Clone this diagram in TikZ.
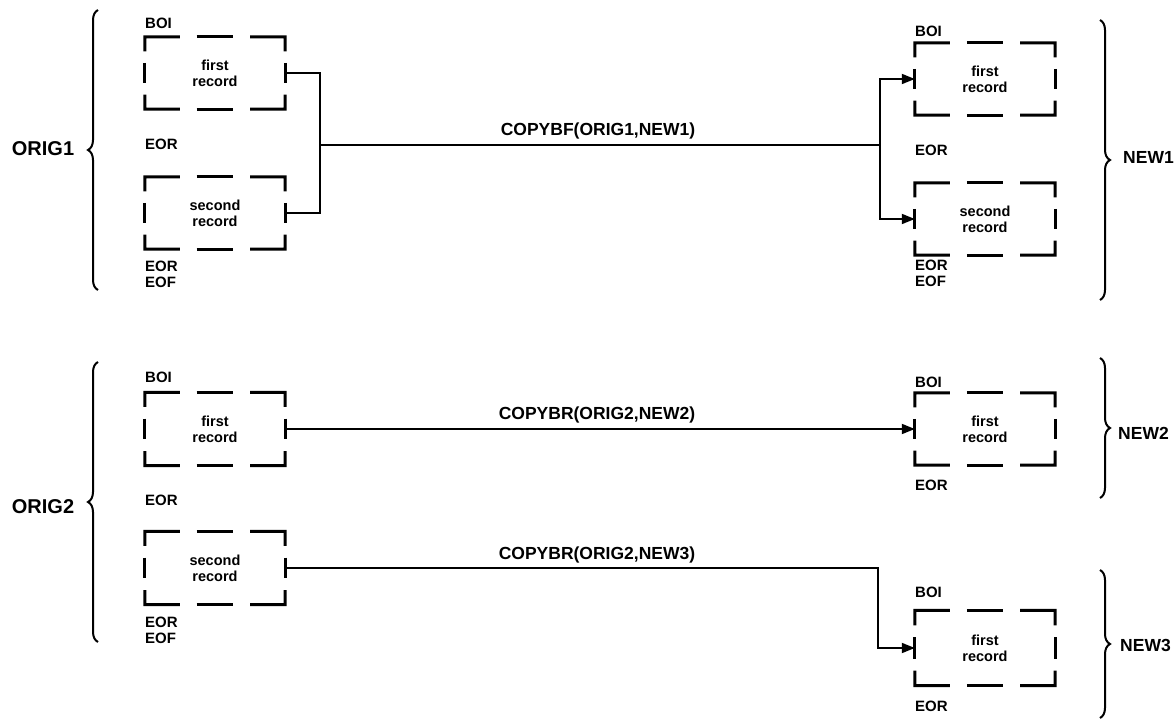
\documentclass[tikz,border=0pt]{standalone}
\usepackage{fontspec}
\setmainfont{Liberation Sans}
\usetikzlibrary{calc,decorations.pathreplacing,arrows.meta}
\newcommand\recbox[1]{%
 \draw[dashseg] ($(#1.north west)!0.2!(#1.south west)$) -- (#1.north west) -- ($(#1.north west)!0.25!(#1.north east)$);
 \draw[dashseg] ($(#1.north west)!0.37!(#1.north east)$) -- ($(#1.north west)!0.63!(#1.north east)$);
 \draw[dashseg] ($(#1.north east)!0.25!(#1.north west)$) -- (#1.north east) -- ($(#1.north east)!0.2!(#1.south east)$);
 \draw[dashseg] ($(#1.north west)!0.36!(#1.south west)$) -- ($(#1.north west)!0.64!(#1.south west)$);
 \draw[dashseg] ($(#1.north east)!0.36!(#1.south east)$) -- ($(#1.north east)!0.64!(#1.south east)$);
 \draw[dashseg] ($(#1.south west)!0.2!(#1.north west)$) -- (#1.south west) -- ($(#1.south west)!0.25!(#1.south east)$);
 \draw[dashseg] ($(#1.south west)!0.37!(#1.south east)$) -- ($(#1.south west)!0.63!(#1.south east)$);
 \draw[dashseg] ($(#1.south east)!0.25!(#1.south west)$) -- (#1.south east) -- ($(#1.south east)!0.2!(#1.north east)$);
}
\begin{document}
\begin{tikzpicture}[x=1pt,y=-1pt,
  dashseg/.style={line width=3pt,line cap=butt,line join=miter},
  rec/.style={minimum width=140pt,minimum height=72pt,inner sep=0pt,align=center,
    font=\bfseries\fontsize{14.5}{16}\selectfont},
  tag/.style={anchor=west,inner sep=0pt,font=\bfseries\fontsize{15}{17}\selectfont},
  big/.style={inner sep=0pt,font=\bfseries\fontsize{20}{22}\selectfont},
  cmd/.style={inner sep=0pt,font=\bfseries\fontsize{17.5}{19}\selectfont},
  conn/.style={line width=1.8pt},
  arr/.style={line width=1.8pt,-{Triangle[length=13pt,width=10pt]}},
  brc/.style={line width=2pt,decorate,decoration={brace,amplitude=10pt}}]
\useasboundingbox (0,0) rectangle (1176,719);

% ---------- top section ----------
\node[rec] (o1a) at (215,73) {first\\record};
\node[rec] (o1b) at (215,213) {second\\record};
\node[rec] (n1a) at (985,79) {first\\record};
\node[rec] (n1b) at (985,219) {second\\record};
\recbox{o1a}\recbox{o1b}\recbox{n1a}\recbox{n1b}

\node[tag] (o1boi) at (145,23) {BOI};
\node[tag] (o1eor) at (145,144) {EOR};
\node[tag] (o1eor2) at (145,266) {EOR};
\node[tag] (o1eof) at (145,282) {EOF};
\node[tag] (n1boi) at (915,31) {BOI};
\node[tag] (n1eor) at (915,150) {EOR};
\node[tag] (n1eor2) at (915,265) {EOR};
\node[tag] (n1eof) at (915,281) {EOF};

\coordinate (j1) at (320,145);
\coordinate (j2) at (880,145);
\draw[conn] (o1a.east) -| (j1);
\draw[conn] (o1b.east) -| (j1);
\draw[conn] (j1) -- (j2);
\draw[arr] (j2) |- (n1a.west);
\draw[arr] (j2) |- (n1b.west);
\node[cmd] (c1) at (598,131) {COPYBF(ORIG1,NEW1)};

\draw[brc] (98,290) -- (98,10);
\draw[brc] (1100,20) -- (1100,300);
\node[big] (orig1) at (43,149) {ORIG1};
\node[cmd,anchor=west] (new1) at (1123,157) {NEW1};

% ---------- bottom section ----------
\node[rec,minimum height=73pt] (o2a) at (215,429) {first\\record};
\node[rec,minimum height=73pt] (o2b) at (215,568) {second\\record};
\node[rec] (n2) at (985,429) {first\\record};
\node[rec,minimum height=75pt] (n3) at (985,648) {first\\record};
\recbox{o2a}\recbox{o2b}\recbox{n2}\recbox{n3}

\node[tag] (o2boi) at (145,377) {BOI};
\node[tag] (o2eor) at (145,500) {EOR};
\node[tag] (o2eor2) at (145,622) {EOR};
\node[tag] (o2eof) at (145,638) {EOF};
\node[tag] (n2boi) at (915,382) {BOI};
\node[tag] (n2eor) at (915,485) {EOR};
\node[tag] (n3boi) at (915,592) {BOI};
\node[tag] (n3eor) at (915,706) {EOR};

\draw[arr] (o2a.east) -- (n2.west);
\coordinate (j3) at (878,568);
\draw[arr] (o2b.east) -- (j3) |- (n3.west);
\node[cmd] (c2) at (597,415) {COPYBR(ORIG2,NEW2)};
\node[cmd] (c3) at (597,555) {COPYBR(ORIG2,NEW3)};

\draw[brc] (98,642) -- (98,362);
\draw[brc] (1100,358) -- (1100,498);
\draw[brc] (1100,570) -- (1100,718);
\node[big] (orig2) at (43,507) {ORIG2};
\node[cmd,anchor=west] (new2) at (1118,433) {NEW2};
\node[cmd,anchor=west] (new3) at (1120,645) {NEW3};
\end{tikzpicture}
\end{document}
